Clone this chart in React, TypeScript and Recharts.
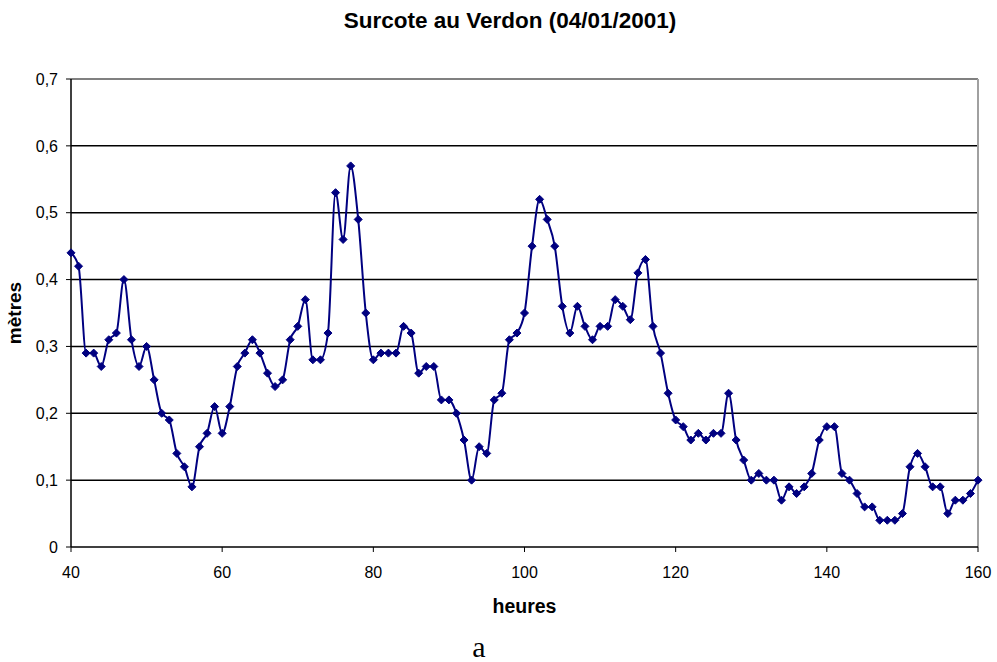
import { CartesianGrid, Line, LineChart, ReferenceLine, XAxis, YAxis } from 'recharts'

const LINE_COLOR = '#000080'

const startHour = 40
const surcote = [
  0.44, 0.42, 0.29, 0.29, 0.27, 0.31, 0.32, 0.4, 0.31, 0.27,
  0.3, 0.25, 0.2, 0.19, 0.14, 0.12, 0.09, 0.15, 0.17, 0.21,
  0.17, 0.21, 0.27, 0.29, 0.31, 0.29, 0.26, 0.24, 0.25, 0.31,
  0.33, 0.37, 0.28, 0.28, 0.32, 0.53, 0.46, 0.57, 0.49, 0.35,
  0.28, 0.29, 0.29, 0.29, 0.33, 0.32, 0.26, 0.27, 0.27, 0.22,
  0.22, 0.2, 0.16, 0.1, 0.15, 0.14, 0.22, 0.23, 0.31, 0.32,
  0.35, 0.45, 0.52, 0.49, 0.45, 0.36, 0.32, 0.36, 0.33, 0.31,
  0.33, 0.33, 0.37, 0.36, 0.34, 0.41, 0.43, 0.33, 0.29, 0.23,
  0.19, 0.18, 0.16, 0.17, 0.16, 0.17, 0.17, 0.23, 0.16, 0.13,
  0.1, 0.11, 0.1, 0.1, 0.07, 0.09, 0.08, 0.09, 0.11, 0.16,
  0.18, 0.18, 0.11, 0.1, 0.08, 0.06, 0.06, 0.04, 0.04, 0.04,
  0.05, 0.12, 0.14, 0.12, 0.09, 0.09, 0.05, 0.07, 0.07, 0.08,
  0.1,
]

const xTicks = [40, 60, 80, 100, 120, 140, 160]
const yTicks = [0, 0.1, 0.2, 0.3, 0.4, 0.5, 0.6, 0.7]
const gridValues = [0.1, 0.2, 0.3, 0.4, 0.5, 0.6]

const data = surcote.map((v, i) => ({ heure: startHour + i, surcote: v }))

const SANS = 'Liberation Sans, Arial, sans-serif'
const tickStyle = { fontSize: 16, fill: '#000', fontFamily: SANS }

function Diamond(props: any) {
  const { cx, cy, index } = props
  if (cx == null || cy == null) return <g key={index} />
  const r = 4
  return (
    <polygon
      key={index}
      points={`${cx},${cy - r} ${cx + r},${cy} ${cx},${cy + r} ${cx - r},${cy}`}
      fill={LINE_COLOR}
      stroke={LINE_COLOR}
      strokeWidth={1}
    />
  )
}

export default function App() {
  return (
    <div
      style={{
        position: 'absolute',
        left: 0,
        top: 0,
        width: 997,
        height: 662,
        background: '#fff',
        fontFamily: SANS,
      }}
    >
      <LineChart
        width={997}
        height={662}
        data={data}
        margin={{ top: 79, right: 19, bottom: 45, left: 0 }}
      >
        <CartesianGrid
          vertical={false}
          horizontalValues={gridValues}
          stroke="#000"
          strokeWidth={1.5}
        />
        <ReferenceLine y={0.7} stroke="#808080" strokeWidth={2} />
        <ReferenceLine x={160} stroke="#a0a0a0" strokeWidth={2} />
        <XAxis
          dataKey="heure"
          type="number"
          domain={[40, 160]}
          ticks={xTicks}
          tick={tickStyle}
          tickSize={5}
          tickMargin={15}
          axisLine={{ stroke: '#000', strokeWidth: 1.5 }}
          tickLine={{ stroke: '#000' }}
          height={70}
          label={{
            value: 'heures',
            position: 'insideBottom',
            offset: 4,
            style: { fontWeight: 'bold', fontSize: 19.5, fill: '#000', fontFamily: SANS },
          }}
        />
        <YAxis
          type="number"
          domain={[0, 0.7]}
          ticks={yTicks}
          tick={tickStyle}
          tickSize={5}
          tickMargin={8}
          tickFormatter={(v: number) => String(Math.round(v * 10) / 10).replace('.', ',')}
          axisLine={{ stroke: '#000', strokeWidth: 1.5 }}
          tickLine={{ stroke: '#000' }}
          width={71}
          label={{
            value: 'mètres',
            angle: -90,
            position: 'insideLeft',
            offset: 14,
            style: { fontWeight: 'bold', fontSize: 19, fill: '#000', textAnchor: 'middle', fontFamily: SANS },
          }}
        />
        <Line
          type="monotone"
          dataKey="surcote"
          stroke={LINE_COLOR}
          strokeWidth={2}
          dot={Diamond}
          activeDot={false}
          isAnimationActive={false}
        />
      </LineChart>
      <svg
        width={997}
        height={662}
        style={{ position: 'absolute', left: 0, top: 0, pointerEvents: 'none' }}
      >
        <text
          x={510}
          y={28}
          textAnchor="middle"
          fontFamily={SANS}
          fontWeight="bold"
          fontSize={22.5}
          fill="#000"
        >
          Surcote au Verdon (04/01/2001)
        </text>
        <text
          x={479}
          y={657}
          textAnchor="middle"
          fontFamily="Liberation Serif, Times New Roman, serif"
          fontSize={30}
          fill="#000"
        >
          a
        </text>
      </svg>
    </div>
  )
}
